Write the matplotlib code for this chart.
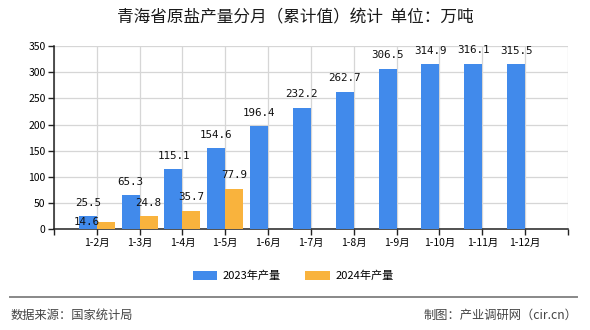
import matplotlib.pyplot as plt
import numpy as np

plt.rcParams['font.family'] = ['Noto Sans CJK SC', 'DejaVu Sans']

# ── data ──────────────────────────────────────────────────────────────────────
months = ['1-2月', '1-3月', '1-4月', '1-5月', '1-6月', '1-7月',
          '1-8月', '1-9月', '1-10月', '1-11月', '1-12月']
prod_2023 = [25.5, 65.3, 115.1, 154.6, 196.4, 232.2, 262.7, 306.5, 314.9, 316.1, 315.5]
prod_2024 = [14.6, 24.8, 35.7, 77.9]

BLUE = '#418AEB'
ORANGE = '#F9B33D'
W = 0.42

fig = plt.figure(figsize=(5.9, 3.3), dpi=100)
ax = fig.add_axes([0.0915, 0.305, 0.871, 0.556])

x = np.arange(1, len(months) + 1)
x24 = x[:len(prod_2024)]

ax.bar(x - W / 2, prod_2023, width=W, color=BLUE, zorder=3, label='2023年产量')
ax.bar(x24 + W / 2, prod_2024, width=W, color=ORANGE, zorder=3, label='2024年产量')

lab_kw = dict(ha='center', va='center', fontsize=7.8, family='DejaVu Sans Mono',
              color='#111', textcoords='offset points', zorder=5)
for xi, v in zip(x, prod_2023):
    ax.annotate(f'{v:.1f}', (xi - W / 2, v), xytext=(0, 9.5), **lab_kw)
for i, (xi, v) in enumerate(zip(x24, prod_2024)):
    # first label would sit on top of its neighbour, nudge it left
    off = (-14, 0) if i == 0 else (0, 9.5)
    ax.annotate(f'{v:.1f}', (xi + W / 2, v), xytext=off, **lab_kw)

# ── axes styling ──────────────────────────────────────────────────────────────
ax.set_xlim(0, 12)
ax.set_ylim(0, 350)
ax.set_yticks(np.arange(0, 351, 50))
ax.set_xticks(np.arange(0, 13))
ax.set_xticklabels([''] + months + [''])
ax.tick_params(axis='x', length=4, width=1, labelsize=7.5, pad=2, color='#222')
ax.tick_params(axis='y', length=4, width=1, labelsize=7.5, pad=2, color='#222')
ax.grid(True, color='#D6D6D6', lw=0.9, zorder=0)
for s in ['top', 'right']:
    ax.spines[s].set_visible(False)
for s in ['left', 'bottom']:
    ax.spines[s].set_color('#222')
    ax.spines[s].set_linewidth(1.1)

fig.text(0.5, 0.945, '青海省原盐产量分月（累计值）统计  单位：万吨',
         ha='center', va='center', fontsize=12, color='#1a1a1a')

fig.legend(loc='center', bbox_to_anchor=(0.497, 0.164), ncol=2, frameon=False,
           fontsize=8, handlelength=2.2, handleheight=0.9, columnspacing=2.2,
           handletextpad=0.5)

fig.add_artist(plt.Line2D([0.017, 0.978], [0.1, 0.1], color='#888', lw=1.4))
fig.text(0.017, 0.045, '数据来源：国家统计局', ha='left', va='center',
         fontsize=8.8, color='#444')
fig.text(0.978, 0.045, '制图：产业调研网（cir.cn）', ha='right', va='center',
         fontsize=8.8, color='#444')

fig.savefig('out.png', dpi=100, facecolor='white')
